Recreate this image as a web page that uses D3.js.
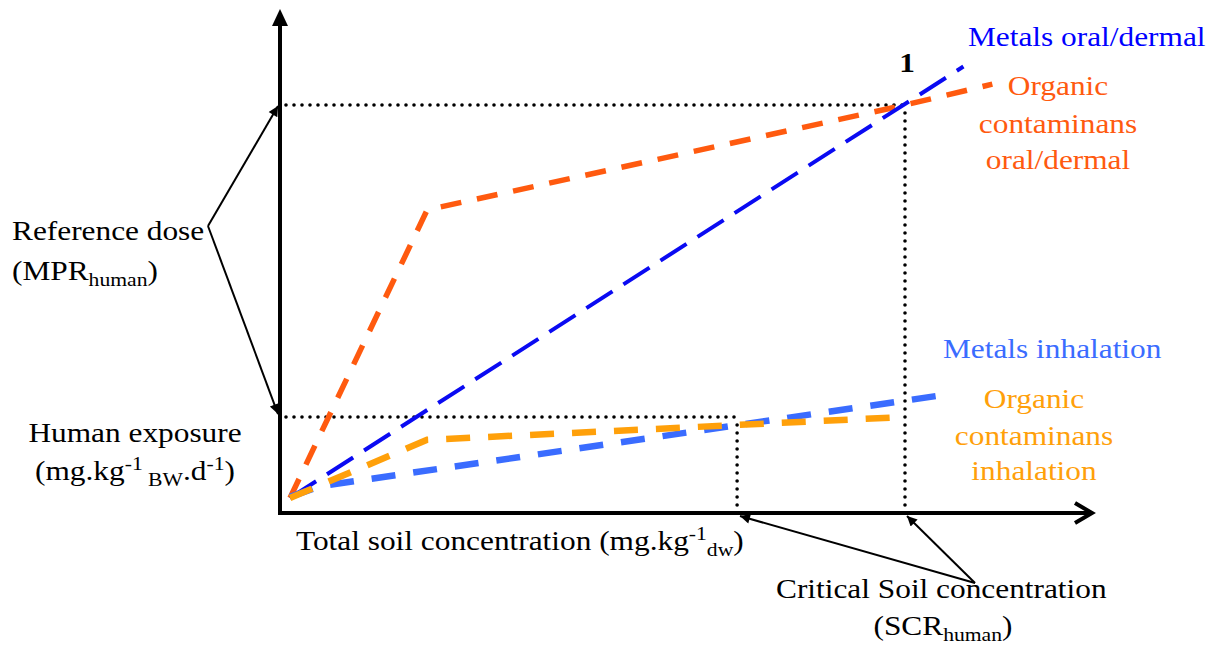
<!DOCTYPE html>
<html>
<head>
<meta charset="utf-8">
<script src="https://cdn.jsdelivr.net/npm/d3@7"></script>
<style>
  body { margin: 0; background: #fff; }
  svg text { font-family: "Liberation Serif", "Times New Roman", serif; }
</style>
</head>
<body>
<svg id="chart" width="1223" height="646"></svg>
<script>
// concept units: x = soil concentration, y = exposure (SCR/MPR at 100)
var orgOral = [[0, 0], [22.3, 73.3], [100, 100], [114.2, 105.3]];
var metOral = [[0, 0], [109.5, 109.8]];
var metInhal = [[0, 0.3], [4.9, 3.0], [107.5, 26.5]];
var orgInhal = [[0, 0], [22.3, 14.8], [99.7, 20.6]];

var refDose = 100;      // MPR human
var exposure = 20.6;    // exposure level
var scrInhal = 72.7;    // SCR for inhalation lines
var scrOral = 100;      // SCR for oral lines

var series = [
    { name: 'orgOral', data: orgOral, color: '#ff5a0f', width: 5.5, dash: '21 16' },
    { name: 'metOral', data: metOral, color: '#0a0af2', width: 4, dash: '31 13' },
    { name: 'metInhal', data: metInhal, color: '#3a6cff', width: 6.5, dash: '24 18' },
    { name: 'orgInhal', data: orgInhal, color: '#ffa00a', width: 6.5, dash: '24 18' }
];

var svg = d3.select('#chart');

var x = d3.scaleLinear().domain([0, 100]).range([290, 905]);
var y = d3.scaleLinear().domain([0, 100]).range([498, 105]);

var axisX0 = 280, axisY0 = 513;

// arrow marker for annotation lines
var defs = svg.append('defs');
defs.append('marker')
    .attr('id', 'tri')
    .attr('viewBox', '0 0 10 10')
    .attr('refX', 10).attr('refY', 5)
    .attr('markerWidth', 6).attr('markerHeight', 5)
    .attr('markerUnits', 'strokeWidth')
    .attr('orient', 'auto')
    .append('path')
    .attr('d', 'M0,0 L10,5 L0,10 z')
    .attr('fill', '#000');

// dotted guides
var dotted = [
    [[axisX0 + 6, y(refDose)], [x(scrOral), y(refDose)]],
    [[x(scrOral), y(refDose) + 8], [x(scrOral), axisY0]],
    [[axisX0 + 6, y(exposure)], [x(scrInhal), y(exposure)]],
    [[x(scrInhal), y(exposure) + 8], [x(scrInhal), axisY0]]
];
svg.selectAll('.dot')
    .data(dotted)
    .enter().append('path')
    .attr('class', 'dot')
    .attr('d', d3.line())
    .attr('fill', 'none')
    .attr('stroke', '#000')
    .attr('stroke-width', 3.6)
    .attr('stroke-linecap', 'round')
    .attr('stroke-dasharray', '0 8');

// axes
svg.append('line')
    .attr('x1', axisX0).attr('y1', axisY0 + 2)
    .attr('x2', axisX0).attr('y2', 20)
    .attr('stroke', '#000').attr('stroke-width', 4);
svg.append('path')
    .attr('d', 'M' + axisX0 + ',9 L' + (axisX0 + 8) + ',26 L' + (axisX0 - 8) + ',26 z')
    .attr('fill', '#000');
svg.append('line')
    .attr('x1', axisX0 - 2).attr('y1', axisY0)
    .attr('x2', 1091).attr('y2', axisY0)
    .attr('stroke', '#000').attr('stroke-width', 4);
svg.append('path')
    .attr('d', 'M1075,503 L1092,513 L1075,523')
    .attr('fill', 'none')
    .attr('stroke', '#000').attr('stroke-width', 4);

// data lines
var line = d3.line()
    .x(function (d) { return x(d[0]); })
    .y(function (d) { return y(d[1]); });

svg.selectAll('.series')
    .data(series)
    .enter().append('path')
    .attr('class', 'series')
    .attr('d', function (d) { return line(d.data); })
    .attr('fill', 'none')
    .attr('stroke', function (d) { return d.color; })
    .attr('stroke-width', function (d) { return d.width; })
    .attr('stroke-dasharray', function (d) { return d.dash; });

// annotation arrows
var arrows = [
    [[208, 226], [278, y(refDose) + 1]],
    [[208, 226], [278, y(exposure) - 3]],
    [[975, 583], [740, 516]],
    [[975, 583], [907, 516]]
];
svg.selectAll('.arrow')
    .data(arrows)
    .enter().append('path')
    .attr('class', 'arrow')
    .attr('d', d3.line())
    .attr('stroke', '#000')
    .attr('stroke-width', 2)
    .attr('fill', 'none')
    .attr('marker-end', 'url(#tri)');

// labels
var SX = 1.14;
function label(px, py, parts, opt) {
    opt = opt || {};
    var t = svg.append('text')
        .attr('transform', 'translate(' + px + ',' + py + ') scale(' + SX + ',1)')
        .attr('text-anchor', opt.anchor || 'start')
        .attr('font-size', opt.size || 27.5)
        .attr('font-weight', opt.weight || 'normal')
        .attr('fill', opt.color || '#000');
    var shift = 0;
    parts.forEach(function (p) {
        var s = typeof p === 'string' ? { t: p } : p;
        var want = s.sub ? 6 : (s.sup ? -10 : 0);
        t.append('tspan')
            .attr('dy', want - shift)
            .attr('font-size', s.sub || s.sup ? 19 : (opt.size || 27.5))
            .text(s.t);
        shift = want;
    });
    return t;
}

label(968, 46, ['Metals oral/dermal'], { color: '#0000ff' });
label(1058, 95, ['Organic'], { color: '#ff5a0f', anchor: 'middle' });
label(1058, 133, ['contaminans'], { color: '#ff5a0f', anchor: 'middle' });
label(1058, 169, ['oral/dermal'], { color: '#ff5a0f', anchor: 'middle' });
label(943, 358, ['Metals inhalation'], { color: '#3a6cff' });
label(1034, 408, ['Organic'], { color: '#ffa00a', anchor: 'middle' });
label(1034, 445, ['contaminans'], { color: '#ffa00a', anchor: 'middle' });
label(1034, 480, ['inhalation'], { color: '#ffa00a', anchor: 'middle' });
label(907, 72, ['1'], { weight: 'bold', anchor: 'middle' });

label(12, 240, ['Reference dose']);
label(12, 280, ['(MPR', { t: 'human', sub: true }, ')']);
label(135, 442, ['Human exposure'], { anchor: 'middle' });
label(135, 480, ['(mg.kg', { t: '-1', sup: true }, { t: ' BW', sub: true }, '.d', { t: '-1', sup: true }, ')'], { anchor: 'middle' });
label(296, 550, ['Total soil concentration (mg.kg', { t: '-1', sup: true }, { t: 'dw', sub: true }, ')']);
label(776, 598, ['Critical Soil concentration']);
label(943, 635, ['(SCR', { t: 'human', sub: true }, ')'], { anchor: 'middle' });
</script>
</body>
</html>
